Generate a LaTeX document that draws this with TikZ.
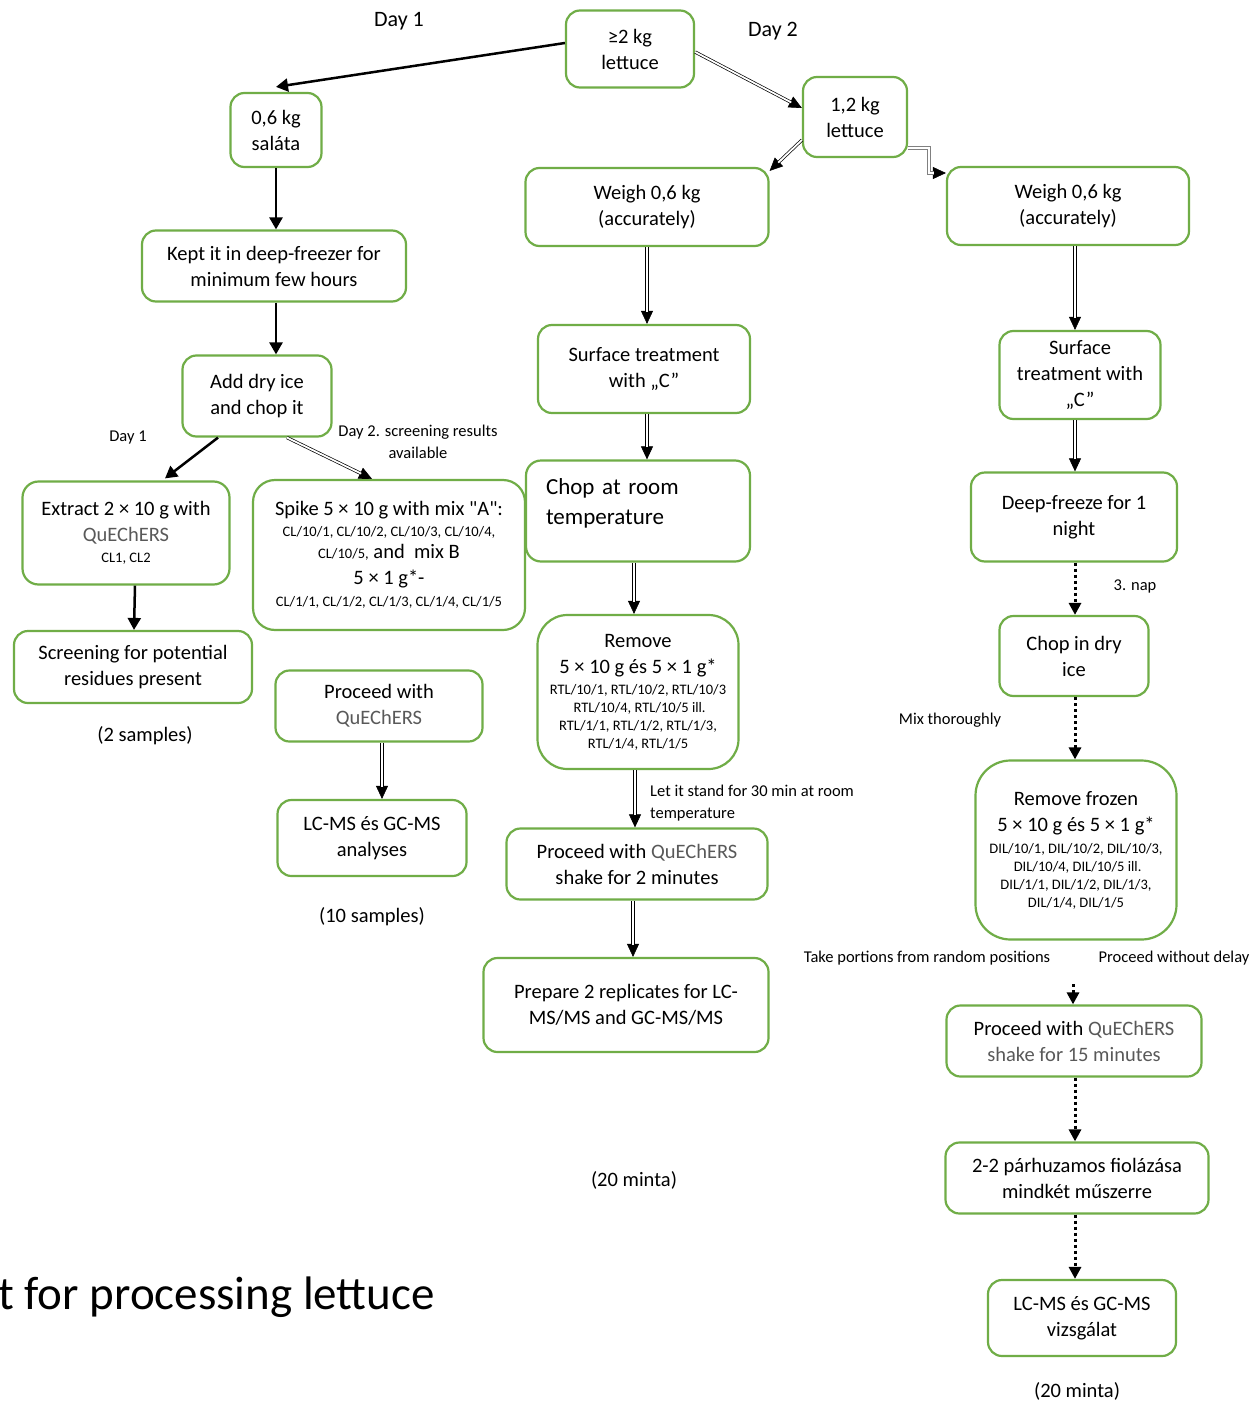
\documentclass[tikz,border=0pt]{standalone}
\usepackage{fontspec}
\setmainfont{Carlito}
\newfontfamily\rawf{Carlito}
\usetikzlibrary{arrows.meta}
\definecolor{boxgreen}{RGB}{112,173,71}
\definecolor{qgray}{RGB}{89,89,89}
\newcommand{\mainf}{\fontsize{20.5}{26}\selectfont}
\newcommand{\dayf}{\fontsize{22}{27}\selectfont}
\newcommand{\smallf}{\fontsize{16.5}{22.5}\selectfont}
\newcommand{\tinyf}{\fontsize{14.5}{18}\selectfont}
\newcommand{\chopf}{\fontsize{23}{30}\selectfont}
\newcommand{\titlef}{\fontsize{47}{56}\selectfont}
\newcommand{\qc}{\textcolor{qgray}{QuEChERS}}
\newcommand{\sq}{{\rawf"}}
\begin{document}
\begin{tikzpicture}[x=1pt,y=-1pt,
  box/.style={draw=boxgreen, line width=2.2pt, rounded corners=14pt, align=center, inner sep=0pt, font=\mainf, text=black},
  lbl/.style={inner sep=0pt, align=center, font=\smallf},
  sarrow/.style={line width=2.5pt, -{Triangle[length=12pt,width=13pt]}},
  darrow/.style={postaction={draw=black, line width=0.6pt, -{Triangle[length=13pt,width=12pt]}},
                 postaction={draw=black, double=white, double distance=1.8pt, line width=0.7pt, shorten >=12pt}},
  darrowg/.style={postaction={draw=black, line width=0.6pt, -{Triangle[length=13pt,width=12pt]}},
                 postaction={draw=gray, double=white, double distance=1.8pt, line width=0.9pt, shorten >=12pt}},
  dotarrow/.style={line width=3pt, dash pattern=on 3pt off 3pt, -{Triangle[length=12pt,width=12pt]}}
]
\useasboundingbox (0,0) rectangle (1254,1402);
\fill[white] (0,0) rectangle (1254,1402);

% ---- boxes
\node[box, minimum width=128pt, minimum height=77pt] (top) at (630,49) {≥2 kg\\lettuce};
\node[box, minimum width=91pt, minimum height=74pt] (s06) at (276,130) {0,6 kg\\saláta};
\node[box, minimum width=104pt, minimum height=80pt] (l12) at (855,117) {1,2 kg\\lettuce};
\node[box, minimum width=264pt, minimum height=71pt] (kept) at (274,266) {Kept it in deep-freezer for\\minimum few hours};
\node[box, minimum width=149pt, minimum height=81pt] (add) at (257,396) {Add dry ice\\and chop it};
\node[box, minimum width=207pt, minimum height=103pt, rounded corners=16pt] (ex) at (126,533)
  {Extract 2 × 10 g with\\\qc\\[-5pt]{\tinyf CL1, CL2}};
\node[box, minimum width=272pt, minimum height=150pt, rounded corners=22pt] (sp) at (389,555)
  {Spike 5 × 10 g with mix \sq A\sq:\\[-5pt]
   {\tinyf CL/10/1, CL/10/2, CL/10/3, CL/10/4,}\\[-4pt]
   {\tinyf CL/10/5,} and~ mix B\\
   5 × 1 g*-\\[-4pt]
   {\tinyf CL/1/1, CL/1/2, CL/1/3, CL/1/4, CL/1/5}};
\node[box, minimum width=238pt, minimum height=72pt] (sc) at (133,667) {Screening for potential\\residues present};
\node[box, minimum width=207pt, minimum height=71pt] (pq) at (379,706) {Proceed with\\\qc};
\node[box, minimum width=189pt, minimum height=76pt] (lc) at (372,838) {LC-MS és GC-MS\\analyses};

\node[box, minimum width=243pt, minimum height=78pt] (wm) at (647,207) {Weigh 0,6 kg\\(accurately)};
\node[box, minimum width=212pt, minimum height=88pt] (st) at (644,369) {Surface treatment\\with „C”};
\node[box, minimum width=224pt, minimum height=101pt, rounded corners=15pt, align=left, text width=184pt, font=\chopf] (cr) at (638,511)
  {Chop at room\\temperature\\[-11pt]\mbox{}};
\node[box, minimum width=201pt, minimum height=154pt, rounded corners=30pt] (rm) at (638,692)
  {Remove\\
   5 × 10 g és 5 × 1 g*\\[-5pt]
   {\tinyf RTL/10/1, RTL/10/2, RTL/10/3}\\[-8pt]
   {\tinyf \ RTL/10/4, RTL/10/5 ill.}\\[-8pt]
   {\tinyf RTL/1/1, RTL/1/2, RTL/1/3,}\\[-8pt]
   {\tinyf RTL/1/4, RTL/1/5}};
\node[box, minimum width=261pt, minimum height=71pt] (p2) at (637,864) {Proceed with \qc\\shake for 2 minutes};
\node[box, minimum width=285pt, minimum height=94pt] (pr) at (626,1005) {Prepare 2 replicates for LC-\\MS/MS and GC-MS/MS};

\node[box, minimum width=242pt, minimum height=78pt] (w3) at (1068,206) {Weigh 0,6 kg\\(accurately)};
\node[box, minimum width=161pt, minimum height=88pt] (st3) at (1080,375) {Surface\\treatment with\\„C”};
\node[box, minimum width=206pt, minimum height=89pt] (df) at (1074,517) {Deep-freeze for 1\\night};
\node[box, minimum width=149pt, minimum height=80pt] (cd) at (1074,656) {Chop in dry\\ice};
\node[box, minimum width=201pt, minimum height=179pt, rounded corners=35pt] (rf) at (1076,850)
  {Remove frozen\\
   5 × 10 g és 5 × 1 g*\\[-4pt]
   {\tinyf DIL/10/1, DIL/10/2, DIL/10/3,}\\[-8pt]
   {\tinyf \ DIL/10/4, DIL/10/5 ill.}\\[-8pt]
   {\tinyf DIL/1/1, DIL/1/2, DIL/1/3,}\\[-8pt]
   {\tinyf DIL/1/4, DIL/1/5}};
\node[box, minimum width=255pt, minimum height=71pt] (p15) at (1074,1041) {Proceed with \qc\\\textcolor{qgray}{shake for 15 minutes}};
\node[box, minimum width=263pt, minimum height=71pt] (pp) at (1077,1178) {2-2 párhuzamos fiolázása\\mindkét műszerre};
\node[box, minimum width=188pt, minimum height=76pt] (lv) at (1082,1318) {LC-MS és GC-MS\\vizsgálat};

% ---- labels
\node[lbl, font=\dayf] (d1) at (399,21) {Day 1};
\node[lbl, font=\dayf] (d2) at (773,31) {Day 2};
\node[lbl] (d1s) at (128,438) {Day 1};
\node[lbl] (d2s) at (418,442) {Day 2. screening results\\available};
\node[lbl, font=\mainf] (n2s) at (145,736) {(2 samples)};
\node[lbl, font=\mainf] (n10s) at (372,917) {(10 samples)};
\node[lbl, font=\mainf] (n20a) at (634,1180) {(20 minta)};
\node[lbl, anchor=west, align=left] (stand) at (650,803) {Let it stand for 30 min at room\\temperature};
\node[lbl] (nap) at (1135,586) {3. nap};
\node[lbl] (mix) at (950,720) {Mix thoroughly};
\node[lbl] (take) at (927,958) {Take portions from random positions};
\node[lbl] (wod) at (1174,958) {Proceed without delay};
\node[lbl, font=\mainf] (n20b) at (1077,1391) {(20 minta)};
\node[inner sep=0pt, anchor=base west, font=\titlef] (title) at (-2,1309) {t for processing lettuce};

% ---- connectors
\draw[sarrow] ([yshift=6pt]top.west) -- ([yshift=5pt]s06.north);
\path[darrow] ([yshift=-3pt]top.east) -- ([yshift=9pt]l12.west);
\path[darrow] ([yshift=-23pt]l12.west) -- ([yshift=-4pt]wm.north east);
\path[darrowg] ([yshift=-31pt]l12.east) -- ++(21,0) |- ([yshift=33pt]w3.west);

\draw[sarrow] (s06.south) -- (s06.south |- kept.north);
\draw[sarrow] ([xshift=2pt]kept.south) -- ([xshift=2pt]kept.south |- add.north);
\draw[sarrow] ([xshift=-39pt]add.south) -- ([xshift=39pt,yshift=2pt]ex.north);
\path[darrow] ([xshift=30pt]add.south) -- ([xshift=-17pt]sp.north);
\draw[sarrow] ([xshift=9pt]ex.south) -- ([xshift=1pt]sc.north);
\path[darrow] ([xshift=3pt]pq.south) -- ([xshift=3pt]pq.south |- lc.north);

\path[darrow] (wm.south) -- (wm.south |- st.north);
\path[darrow] ([xshift=3pt]st.south) -- ([xshift=3pt]st.south |- cr.north);
\path[darrow] ([xshift=-4pt]cr.south) -- ([xshift=-4pt]cr.south |- rm.north);
\path[darrow] ([xshift=-3pt]rm.south) -- ([xshift=-3pt]rm.south |- p2.north);
\path[darrow] ([xshift=-4pt]p2.south) -- ([xshift=-4pt]p2.south |- pr.north);

\coordinate (cx) at (1075,0);
\path[darrow] (w3.south -| cx) -- (st3.north -| cx);
\path[darrow] (st3.south -| cx) -- (df.north -| cx);
\draw[dotarrow] (df.south -| cx) -- (cd.north -| cx);
\draw[dotarrow] (cd.south -| cx) -- (rf.north -| cx);
\coordinate (dst) at (1073,984);
\draw[dotarrow] (dst) -- (dst |- p15.north);
\draw[dotarrow] (p15.south -| cx) -- (pp.north -| cx);
\draw[dotarrow] (pp.south -| cx) -- (lv.north -| cx);
\end{tikzpicture}
\end{document}
